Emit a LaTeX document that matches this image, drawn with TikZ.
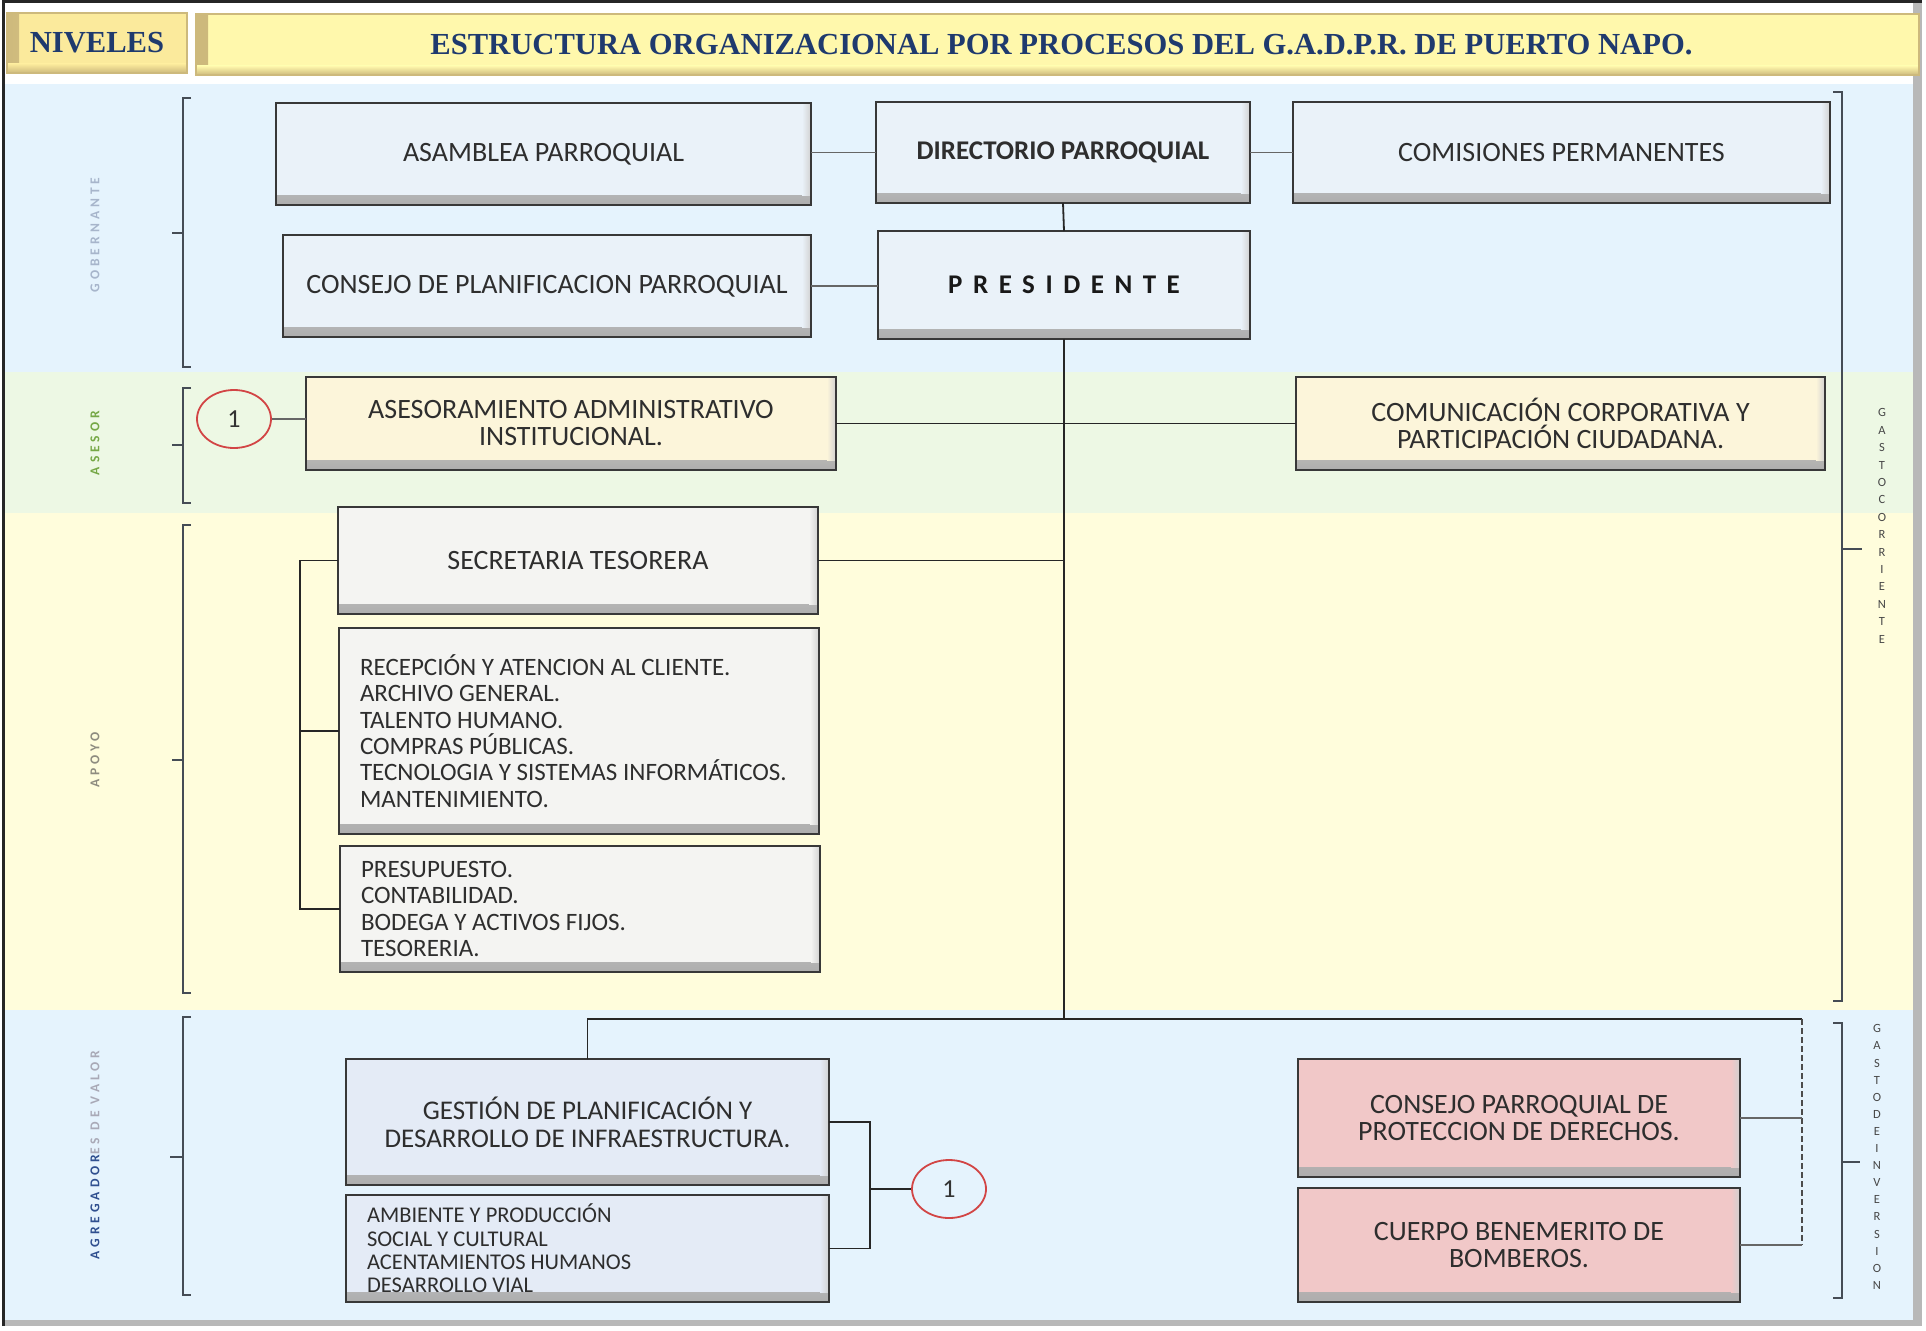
\documentclass[tikz,border=0pt]{standalone}
\usepackage{fontspec}
\setmainfont{Carlito}
\newfontfamily\titlefont{Liberation Serif}
\newfontfamily\presfont[LetterSpace=39]{Carlito}
\newfontfamily\lblfont[LetterSpace=30]{Carlito}
\usetikzlibrary{shapes.geometric}
\newcommand{\myfs}[2]{\fontsize{#1}{#2}\selectfont}
\definecolor{bandblue}{HTML}{E5F3FD}
\definecolor{bandgreen}{HTML}{EDF8E4}
\definecolor{bandyellow}{HTML}{FFFDDC}
\definecolor{boxblue}{HTML}{EAF2F9}
\definecolor{boxcream}{HTML}{FCF5DA}
\definecolor{boxgray}{HTML}{F4F4F2}
\definecolor{boxlav}{HTML}{E4EBF6}
\definecolor{boxpink}{HTML}{F1C8C8}
\definecolor{hdryel}{HTML}{FFF8AC}
\definecolor{hdrgold}{HTML}{FBEA9C}
\definecolor{hdrline}{HTML}{CDB97C}
\definecolor{titleblue}{HTML}{1F3A6E}
\definecolor{lblgob}{HTML}{A7B5CB}
\definecolor{lblases}{HTML}{76A846}
\definecolor{lblapo}{HTML}{8E8C80}
\definecolor{lblagr}{HTML}{2F4F8F}
\definecolor{lblgray}{HTML}{A9A9B6}
\definecolor{brkcol}{HTML}{454C55}
\definecolor{circred}{HTML}{D24545}
\tikzset{
  box/.style={draw=black!78, line width=2.6pt, fill=#1, inner sep=0pt, outer sep=0pt,
    align=center, font=\myfs{28}{27}, text=black!82,
    path picture={
      \shade[top color=#1, bottom color=black!32]
        ([yshift=10pt]path picture bounding box.south west) rectangle (path picture bounding box.south east);
      \shade[left color=#1, right color=black!18]
        ([xshift=-9pt]path picture bounding box.north east) rectangle ([yshift=10pt]path picture bounding box.south east);
    }},
  listbox/.style={align=left, font=\myfs{25}{26.3}},
  hdr/.style={draw=hdrline, line width=2.5pt, fill=#1, inner sep=0pt, outer sep=0pt,
    font=\titlefont\bfseries\myfs{30.6}{30}, text=titleblue,
    path picture={
      \shade[left color=hdrline, right color=#1]
        (path picture bounding box.north west) rectangle ([xshift=12pt]path picture bounding box.south west);
      \shade[top color=#1, bottom color=hdrline]
        ([yshift=9pt]path picture bounding box.south west) rectangle (path picture bounding box.south east);
    }},
  circ/.style={ellipse, draw=circred, line width=1.8pt, minimum width=74pt, minimum height=58pt,
    inner sep=0pt, font=\myfs{26}{26}, text=black!80},
  conn/.style={draw=black!85, line width=1.8pt},
  lightconn/.style={draw=black!60, line width=1.6pt},
  brk/.style={draw=brkcol, line width=2.4pt},
  lbl/.style={rotate=90, inner sep=0pt, font=\lblfont\bfseries\myfs{13.5}{14}},
  rtxt/.style={align=center, inner sep=0pt, text=black!72}
}
\begin{document}
\begin{tikzpicture}[x=1pt,y=-1pt]
\useasboundingbox (0,0) rectangle (1926,1330);
\fill[white] (0,0) rectangle (1926,1330);
% bands
\fill[bandblue] (5,84) rectangle (1913,372);
\fill[bandgreen] (5,372) rectangle (1913,513);
\fill[bandyellow] (5,513) rectangle (1913,1010);
\fill[bandblue] (5,1010) rectangle (1913,1320);
% frame
\fill[black!28] (1913,2) rectangle (1922,1326);
\fill[black!28] (3,1320) rectangle (1922,1326);
\draw[black!85, line width=3pt] (3,1326) -- (3,2) -- (1922,2);

% header
\node[hdr=hdrgold, minimum width=180pt, minimum height=60pt] (niveles) at (97,43) {NIVELES};
\node[hdr=hdryel, minimum width=1723pt, minimum height=61pt] (titulo) at (1057.5,44.5)
  {\hspace*{8pt}ESTRUCTURA ORGANIZACIONAL POR PROCESOS DEL G.A.D.P.R. DE PUERTO NAPO.};

% left level labels
\node[lbl, text=lblgob] (lgob) at (95,235) {GOBERNANTE};
\node[lbl, text=lblases] (lases) at (95,443) {ASESOR};
\node[lbl, text=lblapo] (lapo) at (95,760) {APOYO};
\node[lbl] (lagr) at (95,1155) {\textcolor{lblagr}{AGREGADOR}\textcolor{lblgray}{ES DE VALOR}};

% left brackets
\draw[brk] (191,98) -- (183,98) -- (183,367) -- (191,367);
\draw[brk] (183,233) -- (172,233);
\draw[brk] (191,388) -- (183,388) -- (183,503) -- (191,503);
\draw[brk] (183,445) -- (172,445);
\draw[brk] (191,525) -- (183,525) -- (183,993) -- (191,993);
\draw[brk] (183,760) -- (172,760);
\draw[brk] (191,1017) -- (183,1017) -- (183,1295) -- (191,1295);
\draw[brk] (183,1157) -- (170,1157);

% right brackets
\draw[brk] (1833,92) -- (1842,92) -- (1842,1001) -- (1833,1001);
\draw[brk] (1842,549) -- (1862,549);
\draw[brk] (1833,1023) -- (1842,1023) -- (1842,1298) -- (1833,1298);
\draw[brk] (1842,1162) -- (1860,1162);

% right labels
\node[rtxt, font=\myfs{12.5}{17.4}] (gcorr) at (1882,526)
  {G\\A\\S\\T\\O\\C\\O\\R\\R\\I\\E\\N\\T\\E};
\node[rtxt, font=\myfs{12.5}{17.1}] (ginv) at (1877,1157)
  {G\\A\\S\\T\\O\\D\\E\\I\\N\\V\\E\\R\\S\\I\\O\\N};

% gobernante
\node[box=boxblue, minimum width=535pt, minimum height=102pt] (asamblea) at (543.5,154) {ASAMBLEA PARROQUIAL};
\node[box=boxblue, minimum width=374pt, minimum height=101pt, font=\bfseries\myfs{27}{27}] (directorio) at (1063,152.5) {DIRECTORIO PARROQUIAL};
\node[box=boxblue, minimum width=537pt, minimum height=101pt] (comisiones) at (1561.5,152.5) {COMISIONES PERMANENTES};
\node[box=boxblue, minimum width=528pt, minimum height=102pt] (consejo) at (547,286) {CONSEJO DE PLANIFICACION PARROQUIAL};
\node[box=boxblue, minimum width=372pt, minimum height=108pt, font=\presfont\bfseries\myfs{27}{27}, text=black!90] (presidente) at (1064,285) {PRESIDENTE};

% asesor
\node[circ] (circ1) at (234,419) {1};
\node[box=boxcream, minimum width=530pt, minimum height=93pt] (asesor) at (571,423.5) {ASESORAMIENTO ADMINISTRATIVO\\INSTITUCIONAL.};
\node[box=boxcream, minimum width=529pt, minimum height=93pt] (comunic) at (1560.5,423.5) {COMUNICACIÓN CORPORATIVA Y\\PARTICIPACIÓN CIUDADANA.};

% apoyo
\node[box=boxgray, minimum width=480pt, minimum height=107pt] (secret) at (578,560.5) {SECRETARIA TESORERA};
\node[box=boxgray, listbox, text width=438pt, inner xsep=21pt, minimum height=206pt] (recep) at (579,731)
  {\spaceskip=0pt\xspaceskip=0pt RECEPCIÓN Y ATENCION AL CLIENTE.\\ARCHIVO GENERAL.\\TALENTO HUMANO.\\COMPRAS PÚBLICAS.\\TECNOLOGIA Y SISTEMAS INFORMÁTICOS.\\MANTENIMIENTO.};
\node[box=boxgray, listbox, text width=438pt, inner xsep=21pt, minimum height=126pt] (presup) at (580,909)
  {\spaceskip=0pt\xspaceskip=0pt PRESUPUESTO.\\CONTABILIDAD.\\BODEGA Y ACTIVOS FIJOS.\\TESORERIA.};

% agregadores
\node[box=boxlav, minimum width=483pt, minimum height=126pt, font=\myfs{27}{28}] (gestion) at (587.5,1122) {GESTIÓN DE PLANIFICACIÓN Y\\DESARROLLO DE INFRAESTRUCTURA.};
\node[box=boxlav, listbox, text width=441pt, inner xsep=21pt, minimum height=107pt, font=\myfs{22.5}{23.3}] (ambiente) at (587.5,1248.5)
  {\spaceskip=0pt\xspaceskip=0pt AMBIENTE Y PRODUCCIÓN\\SOCIAL Y CULTURAL\\ACENTAMIENTOS HUMANOS\\DESARROLLO VIAL};
\node[circ] (circ2) at (949,1189) {1};
\node[box=boxpink, minimum width=442pt, minimum height=118pt] (consejopd) at (1519,1118) {CONSEJO PARROQUIAL DE\\PROTECCION DE DERECHOS.};
\node[box=boxpink, minimum width=442pt, minimum height=114pt] (bomberos) at (1519,1245) {CUERPO BENEMERITO DE\\BOMBEROS.};

% helper coordinates
\coordinate (hub) at (1064,1019);
\coordinate (rcorner) at (1802,1019);
\coordinate (apoyoX) at (300,0);
\coordinate (gaX) at (870,0);

% connectors
\draw[lightconn] (asamblea.east |- directorio.west) -- (directorio.west);
\draw[lightconn] (directorio.east) -- (comisiones.west);
\draw[conn] (directorio.south) -- (presidente.north);
\draw[lightconn] (consejo.east) -- (consejo.east -| presidente.west);
\draw[conn] (presidente.south) -- (hub);
\draw[lightconn] (circ1.east) -- (circ1.east -| asesor.west);
\draw[conn] (asesor.east) -- (asesor.east -| comunic.west);
\draw[conn] (secret.east) -- (secret.east -| hub);
\draw[conn] (secret.west) -- (secret.west -| apoyoX) |- (presup.west);
\draw[conn] (recep.west) -- (recep.west -| apoyoX);
\draw[conn] (gestion.north) |- (rcorner);
\draw[draw=black!70, line width=1.8pt, dash pattern=on 6pt off 3pt] (rcorner) -- (rcorner |- bomberos.east);
\draw[lightconn] (consejopd.east) -- (consejopd.east -| rcorner);
\draw[lightconn] (bomberos.east) -- (bomberos.east -| rcorner);
\draw[conn] (gestion.east) -- (gestion.east -| gaX) |- (ambiente.east);
\draw[conn] (circ2.west) -- (circ2.west -| gaX);
\end{tikzpicture}
\end{document}
